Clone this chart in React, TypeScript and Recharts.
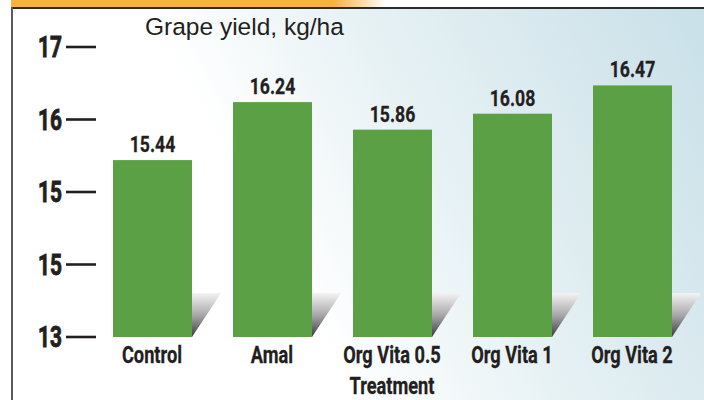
import React from 'react';
import { BarChart, Bar, XAxis, YAxis, LabelList, Label } from 'recharts';

const categories = ['Control', 'Amal', 'Org Vita 0.5', 'Org Vita 1', 'Org Vita 2'];
const yieldValues = [15.44, 16.24, 15.86, 16.08, 16.47];
const yTicks = [13, 14, 15, 16, 17];
const yTickLabels = ['13', '15', '15', '16', '17'];
const chartTitle = 'Grape yield, kg/ha';
const xAxisTitle = 'Treatment';

const data = categories.map((c, i) => ({ name: c, value: yieldValues[i] }));

const COND = 'Roboto, "DejaVu Sans", sans-serif';
const INK = '#231f20';

const NarrowText = ({ x, y, size, sx, anchor, heavy, children }: any) => (
  <text
    transform={`translate(${x},${y}) scale(${sx},1)`}
    x={0}
    y={0}
    textAnchor={anchor}
    fontFamily={COND}
    fontWeight="bold"
    fontSize={size}
    fill={INK}
    stroke={heavy ? INK : 'none'}
    strokeWidth={heavy ? heavy : 0}
  >
    {children}
  </text>
);

const BarShape = (props: any) => {
  const { x, y, width, height, fill, index } = props;
  const bottom = y + height;
  const sh = 44;
  const sw = 29;
  const id = `shadowGrad${index}`;
  return (
    <g>
      <defs>
        <linearGradient id={id} x1="0" y1="0" x2="0" y2="1">
          <stop offset="0" stopColor="#f4f4f4" />
          <stop offset="0.5" stopColor="#a9a9ab" />
          <stop offset="1" stopColor="#3b3b3d" />
        </linearGradient>
      </defs>
      <polygon
        points={`${x + width},${bottom - sh} ${x + width + sw},${bottom - sh} ${x + width},${bottom}`}
        fill={`url(#${id})`}
      />
      <rect x={x} y={y} width={width} height={height} fill={fill} />
    </g>
  );
};

const YTick = (props: any) => {
  const { x, y, payload } = props;
  const label = yTickLabels[yTicks.indexOf(payload.value)];
  return (
    <g>
      <NarrowText x={x - 30} y={y + 10} size={29} sx={0.72} anchor="end" heavy={0.9}>
        {label}
      </NarrowText>
      <line x1={x - 26} x2={x + 4} y1={y} y2={y} stroke={INK} strokeWidth={2.6} />
    </g>
  );
};

const XTick = (props: any) => {
  const { x, y, payload } = props;
  return (
    <NarrowText x={x} y={y + 26} size={24} sx={0.76} anchor="middle" heavy={0.3}>
      {payload.value}
    </NarrowText>
  );
};

const ValueLabel = (props: any) => {
  const { x, y, width, value } = props;
  return (
    <NarrowText x={x + width / 2} y={y - 8} size={22} sx={0.8} anchor="middle" heavy={0.3}>
      {Number(value).toFixed(2)}
    </NarrowText>
  );
};

const AxisTitle = (props: any) => {
  const { viewBox } = props;
  return (
    <NarrowText x={viewBox.x + viewBox.width / 2} y={viewBox.y + viewBox.height} size={24} sx={0.76} anchor="middle" heavy={0.3}>
      {xAxisTitle}
    </NarrowText>
  );
};

export default function App() {
  return (
    <div
      style={{
        position: 'absolute',
        left: 0,
        top: 0,
        width: 704,
        height: 400,
        background: '#ffffff',
        overflow: 'hidden',
      }}
    >
      <div
        style={{
          position: 'absolute',
          left: 11,
          top: 0,
          width: 375,
          height: 7,
          background: 'linear-gradient(to right, #f9b13f 0%, #f9b13f 86%, rgba(255,255,255,1) 100%)',
        }}
      />
      <div
        style={{
          position: 'absolute',
          left: 12,
          top: 9,
          right: 0,
          bottom: 0,
          background: 'linear-gradient(62deg, #ffffff 38%, #e6f1f4 62%, #c9e0e8 100%)',
        }}
      />
      <div style={{ position: 'absolute', left: 11, top: 7, right: 0, height: 2, background: '#2b2b2b' }} />
      <div style={{ position: 'absolute', left: 11, top: 7, width: 2, bottom: 0, background: '#5a5a5a' }} />
      <div
        style={{
          position: 'absolute',
          left: 145,
          top: 15,
          fontFamily: '"Liberation Sans", Arial, sans-serif',
          fontSize: 24.5,
          lineHeight: '24px',
          color: INK,
          whiteSpace: 'nowrap',
        }}
      >
        {chartTitle}
      </div>
      <div style={{ position: 'absolute', left: 0, top: 0 }}>
        <BarChart width={704} height={400} data={data} margin={{ top: 47, right: 12, bottom: 6, left: 0 }}>
          <YAxis
            type="number"
            domain={[13, 17]}
            ticks={yTicks}
            interval={0}
            width={92}
            axisLine={false}
            tickLine={false}
            tickSize={0}
            tickMargin={0}
            tick={<YTick />}
            allowDataOverflow
          />
          <XAxis
            dataKey="name"
            height={57}
            axisLine={false}
            tickLine={false}
            tickSize={0}
            tickMargin={0}
            interval={0}
            tick={<XTick />}
          >
            <Label value={xAxisTitle} position="insideBottom" content={<AxisTitle />} />
          </XAxis>
          <Bar dataKey="value" fill="#5ca045" barSize={79} shape={<BarShape />} isAnimationActive={false}>
            <LabelList dataKey="value" position="top" content={<ValueLabel />} />
          </Bar>
        </BarChart>
      </div>
    </div>
  );
}
